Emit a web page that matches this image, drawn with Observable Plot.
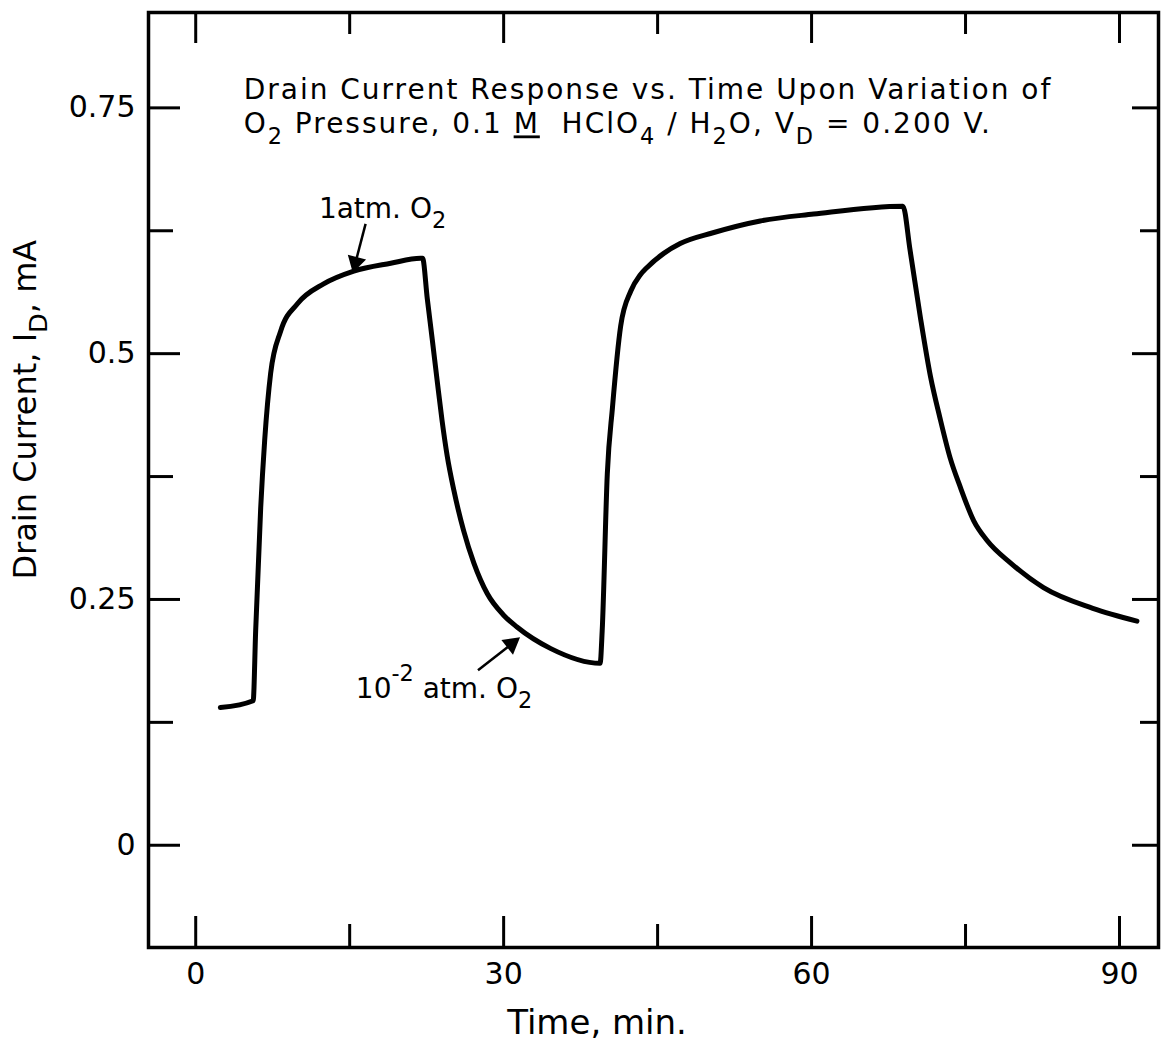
<!DOCTYPE html>
<html>
<head>
<meta charset="utf-8">
<script src="https://cdn.jsdelivr.net/npm/d3@7"></script>
<script src="https://cdn.jsdelivr.net/npm/@observablehq/plot@0.6"></script>
<style>
  html, body { margin: 0; padding: 0; background: #fff; }
  #chart svg { display: block; }
</style>
</head>
<body>
<div id="chart"></div>
<script>
// ---- data ----
const timeMin = [2.4, 5.6, 5.84, 6.33, 6.72, 7.3, 8.28, 9.93, 12.46, 15.4, 19.0, 21.9, 22.1,
  22.56, 23.05, 23.53, 24.0, 24.5, 25.15, 26.1, 27.1, 28.4, 30.0, 31.3, 34.6, 39.4,
  39.6, 40.1, 40.6, 41.4, 42.4, 43.3, 44.0, 45.6, 47.2, 50.4, 55.0, 60.2, 68.9,
  69.6, 70.6, 71.6, 72.5, 73.5, 74.5, 75.8, 77.1, 79.4, 82.6, 87.4, 91.7];
const drainCurrent = [0.140, 0.147, 0.218, 0.343, 0.412, 0.480, 0.523, 0.551, 0.571, 0.584, 0.592, 0.597, 0.597,
  0.556, 0.514, 0.472, 0.432, 0.396, 0.361, 0.320, 0.287, 0.256, 0.234, 0.222, 0.200, 0.185,
  0.218, 0.378, 0.445, 0.528, 0.564, 0.580, 0.588, 0.602, 0.612, 0.623, 0.635, 0.642, 0.650,
  0.605, 0.537, 0.476, 0.435, 0.394, 0.364, 0.330, 0.310, 0.287, 0.262, 0.241, 0.228];

const xMajorTicks = [0, 30, 60, 90];
const xMinorTicks = [15, 45, 75];
const yMajorTicks = [0, 0.25, 0.5, 0.75];
const yMinorTicks = [0.125, 0.375, 0.625];
const xTickLabels = ["0", "30", "60", "90"];
const yTickLabels = ["0", "0.25", "0.5", "0.75"];

const xDomain = [-4.6, 93.8];
const yDomain = [-0.104, 0.847];

const xLabel = "Time, min.";
const yLabel = "Drain Current, I_{D}, mA";
const titleLines = ["Drain Current Response vs. Time Upon Variation of",
                    "O_{2} Pressure, 0.1 ~{M}  HClO_{4} / H_{2}O, V_{D} = 0.200 V."];
const titleX = [4.67, 4.67];
const titleY = [0.759, 0.724];

const noteLabels = ["1atm. O_{2}", "10^{-2} atm. O_{2}"];
const noteX = [12.0, 15.6];
const noteY = [0.638, 0.150];
const arrowX1 = [16.55, 27.5], arrowY1 = [0.632, 0.178];
const arrowX2 = [15.4, 31.3],  arrowY2 = [0.586, 0.209];

// ---- layout ----
const W = 1167, H = 1046;
const mL = 148, mR = 9, mT = 12, mB = 99;
const kx = (W - mL - mR) / (xDomain[1] - xDomain[0]);   // px per minute
const ky = (H - mT - mB) / (yDomain[1] - yDomain[0]);   // px per mA

// ---- build tables ----
const series = timeMin.map((t, i) => ({t, v: drainCurrent[i]}));
const titles = titleLines.map((s, i) => ({s, x: titleX[i], y: titleY[i]}));
const notes = noteLabels.map((s, i) => ({s, x: noteX[i], y: noteY[i]}));
const arrows = arrowX1.map((x1, i) => {
  const x2 = arrowX2[i], y2 = arrowY2[i], y1 = arrowY1[i];
  const dxp = (x2 - x1) * kx, dyp = -(y2 - y1) * ky;       // pixel direction
  const len = Math.hypot(dxp, dyp), ux = dxp / len, uy = dyp / len;
  const back = 7;                                         // head centroid offset (px)
  return {
    x1, y1,
    x2: x2 - ux * 10 / kx, y2: y2 + uy * 10 / ky,
    hx: x2 - ux * back / kx, hy: y2 + uy * back / ky,
    angle: Math.atan2(dxp, -dyp) * 180 / Math.PI
  };
});

const FONT = "DejaVu Sans";
const blank = () => "";

const chart = Plot.plot({
  width: W,
  height: H,
  marginLeft: mL,
  marginRight: mR,
  marginTop: mT,
  marginBottom: mB,
  x: {domain: xDomain},
  y: {domain: yDomain},
  style: {fontFamily: FONT, fontSize: "30px", color: "#000", background: "#fff"},
  marks: [
    Plot.frame({stroke: "#000", strokeWidth: 3.5}),
    // inward tick marks, all four sides
    Plot.axisX(xMajorTicks, {anchor: "bottom", tickSize: -31, tickFormat: blank, strokeWidth: 3, label: null}),
    Plot.axisX(xMinorTicks, {anchor: "bottom", tickSize: -23, tickFormat: blank, strokeWidth: 3, label: null}),
    Plot.axisX(xMajorTicks, {anchor: "top", tickSize: -30, tickFormat: blank, strokeWidth: 3, label: null}),
    Plot.axisX(xMinorTicks, {anchor: "top", tickSize: -21, tickFormat: blank, strokeWidth: 3, label: null}),
    Plot.axisY(yMajorTicks, {anchor: "left", tickSize: -32, tickFormat: blank, strokeWidth: 3, label: null}),
    Plot.axisY(yMinorTicks, {anchor: "left", tickSize: -25, tickFormat: blank, strokeWidth: 3, label: null}),
    Plot.axisY(yMajorTicks, {anchor: "right", tickSize: -27, tickFormat: blank, strokeWidth: 3, label: null}),
    Plot.axisY(yMinorTicks, {anchor: "right", tickSize: -19, tickFormat: blank, strokeWidth: 3, label: null}),
    // tick labels
    Plot.axisX(xMajorTicks, {anchor: "bottom", tickSize: 0, tickPadding: 15, fontSize: 30,
      tickFormat: (d) => xTickLabels[xMajorTicks.indexOf(d)], label: null}),
    Plot.axisY(yMajorTicks, {anchor: "left", tickSize: 0, tickPadding: 13, fontSize: 30,
      tickFormat: (d) => yTickLabels[yMajorTicks.indexOf(d)], label: null}),
    // axis titles
    Plot.text([xLabel], {frameAnchor: "bottom", x: [39.1], text: d => d, dy: 86, lineAnchor: "bottom", fontSize: 34}),
    Plot.text([yLabel], {frameAnchor: "left", y: [0.443], text: d => d, dx: -123, rotate: -90,
      textAnchor: "middle", lineAnchor: "middle", fontSize: 32}),
    // data curve
    Plot.line(series, {x: "t", y: "v", curve: "monotone-x", stroke: "#000", strokeWidth: 5,
      strokeLinejoin: "round", strokeLinecap: "round"}),
    // annotations
    Plot.text(titles, {x: "x", y: "y", text: "s", textAnchor: "start", lineAnchor: "bottom", fontSize: 28}),
    Plot.text(notes, {x: "x", y: "y", text: "s", textAnchor: "start", lineAnchor: "bottom", fontSize: 28}),
    Plot.link(arrows, {x1: "x1", y1: "y1", x2: "x2", y2: "y2", stroke: "#000", strokeWidth: 2.5}),
    Plot.dot(arrows, {x: "hx", y: "hy", symbol: "triangle", rotate: "angle", r: 7, fill: "#000", stroke: "none"})
  ]
});

document.getElementById("chart").appendChild(chart);

// wider letter spacing for the two title lines, as in the original lettering
chart.querySelectorAll("text").forEach(t => {
  if (titleLines.includes(t.textContent)) t.setAttribute("letter-spacing", "2px");
});

// Turn _{..} (subscript), ^{..} (superscript) and ~{..} (underline) markup into tspans
function richify(root) {
  const ns = "http://www.w3.org/2000/svg";
  root.querySelectorAll("text").forEach(t => {
    const s = t.textContent;
    if (!/[_^~]\{/.test(s)) return;
    const fs = parseFloat(getComputedStyle(t).fontSize) || 28;
    while (t.firstChild) t.removeChild(t.firstChild);
    const add = (txt, attrs) => {
      const sp = document.createElementNS(ns, "tspan");
      sp.textContent = txt;
      for (const k in attrs) sp.setAttribute(k, attrs[k]);
      t.appendChild(sp);
    };
    const re = /([_^~])\{([^}]*)\}/g;
    let last = 0, m, pending = 0;
    while ((m = re.exec(s))) {
      if (m.index > last) {
        add(s.slice(last, m.index), pending ? {dy: -pending} : {});
        pending = 0;
      }
      if (m[1] === "_") {
        const d = 0.36 * fs - pending;
        add(m[2], {dy: d, "font-size": (0.8 * fs) + "px"});
        pending = 0.36 * fs;
      } else if (m[1] === "^") {
        const d = -0.6 * fs - pending;
        add(m[2], {dy: d, "font-size": (0.8 * fs) + "px"});
        pending = -0.6 * fs;
      } else {
        add(m[2], pending ? {dy: -pending, "text-decoration": "underline"} : {"text-decoration": "underline"});
        pending = 0;
      }
      last = re.lastIndex;
    }
    if (last < s.length) add(s.slice(last), pending ? {dy: -pending} : {});
  });
}
richify(chart);
</script>
</body>
</html>
